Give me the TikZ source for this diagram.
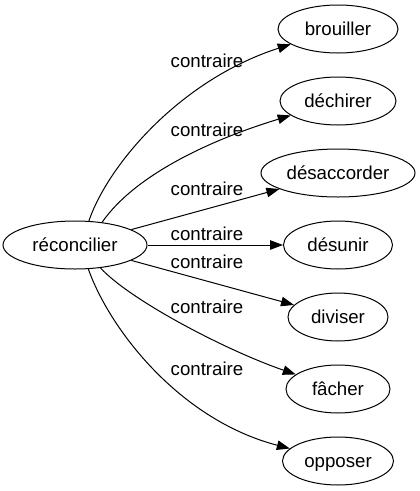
\documentclass[tikz,border=0pt]{standalone}
\usepackage{fontspec}
\setmainfont{Liberation Sans}
\usetikzlibrary{shapes.geometric,arrows.meta}
\begin{document}
\begin{tikzpicture}[x=1pt,y=-1pt,
  every node/.style={font=\fontsize{18.67}{20}\selectfont},
  word/.style={ellipse, draw, line width=1pt, minimum width=#1, minimum height=48pt, inner sep=0pt, text height=13.4pt, text depth=0pt},
  rel/.style={line width=1pt, -{Triangle[length=13pt,width=9.5pt]}},
  lbl/.style={anchor=base, inner sep=0pt}]
\useasboundingbox (0,0) rectangle (420,491);
\node[word=144pt] (r) at (75,245) {réconcilier};
\node[word=120pt] (b) at (338,29) {brouiller};
\node[word=116pt] (d) at (338,101) {déchirer};
\node[word=154pt] (a) at (338,173) {désaccorder};
\node[word=109pt] (u) at (338,245) {désunir};
\node[word=100pt] (v) at (338,317) {diviser};
\node[word=104pt] (f) at (338,389) {fâcher};
\node[word=111pt] (o) at (338,461) {opposer};
\draw[rel] (r.60) .. controls (108,165) and (180,80) .. (b);
\draw[rel] (r.40) .. controls (135,175) and (210,140) .. (d);
\draw[rel] (r) -- (a);
\draw[rel] (r) -- (u);
\draw[rel] (r) -- (v);
\draw[rel] (r.-42) .. controls (130,300) and (225,350) .. (f);
\draw[rel] (r.-61) .. controls (110,330) and (180,420) .. (o);
\node[lbl] (l1) at (207,67) {contraire};
\node[lbl] (l2) at (207,136) {contraire};
\node[lbl] (l3) at (207,195) {contraire};
\node[lbl] (l4) at (207,240) {contraire};
\node[lbl] (l5) at (207,268) {contraire};
\node[lbl] (l6) at (207,313) {contraire};
\node[lbl] (l7) at (207,375) {contraire};
\end{tikzpicture}
\end{document}
